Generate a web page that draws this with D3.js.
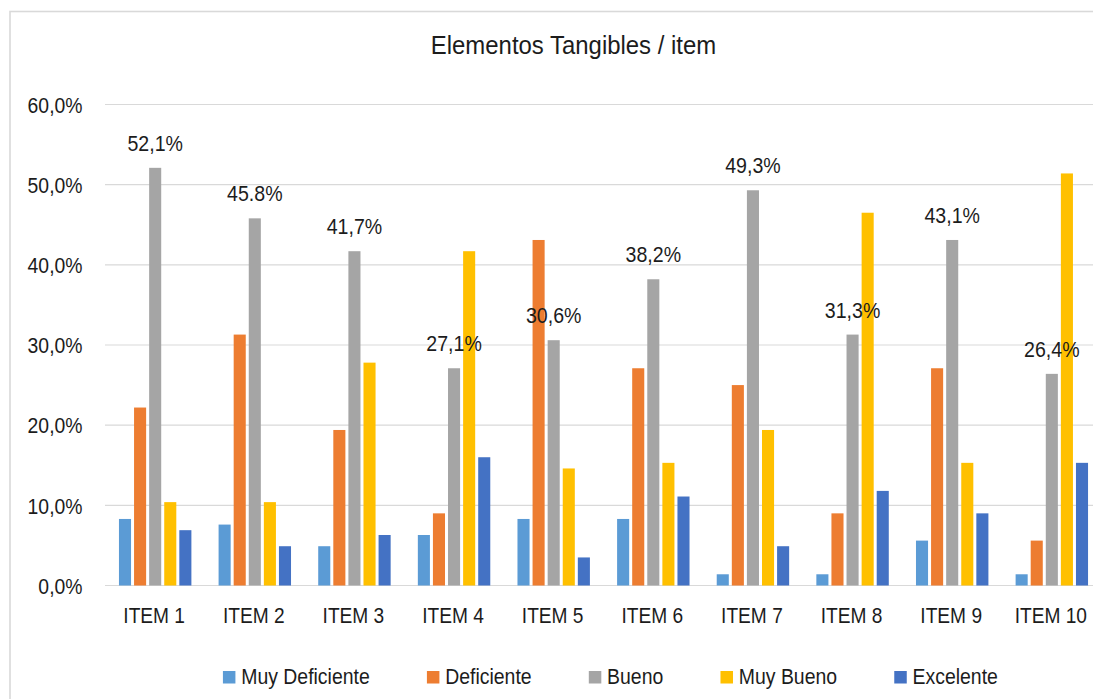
<!DOCTYPE html>
<html>
<head>
<meta charset="utf-8">
<script src="https://cdn.jsdelivr.net/npm/d3@7"></script>
<style>
  html, body { margin: 0; padding: 0; background: #fff; }
  svg { display: block; }
  text { font-family: "Liberation Sans", Arial, sans-serif; fill: #1c1c1c; }
</style>
</head>
<body>
<svg id="chart" width="1093" height="699"></svg>
<script>
// Categories and series (percent of respondents)
const items = ["ITEM 1", "ITEM 2", "ITEM 3", "ITEM 4", "ITEM 5", "ITEM 6", "ITEM 7", "ITEM 8", "ITEM 9", "ITEM 10"];
const seriesNames = ["Muy Deficiente", "Deficiente", "Bueno", "Muy Bueno", "Excelente"];
const muyDeficiente = [8.3, 7.6, 4.9, 6.3, 8.3, 8.3, 1.4, 1.4, 5.6, 1.4];
const deficiente    = [22.2, 31.3, 19.4, 9.0, 43.1, 27.1, 25.0, 9.0, 27.1, 5.6];
const bueno         = [52.1, 45.8, 41.7, 27.1, 30.6, 38.2, 49.3, 31.3, 43.1, 26.4];
const muyBueno      = [10.4, 10.4, 27.8, 41.7, 14.6, 15.3, 19.4, 46.5, 15.3, 51.4];
const excelente     = [6.9, 4.9, 6.3, 16.0, 3.5, 11.1, 4.9, 11.8, 9.0, 15.3];
// Value labels shown above the "Bueno" bars
const buenoLabels = ["52,1%", "45.8%", "41,7%", "27,1%", "30,6%", "38,2%", "49,3%", "31,3%", "43,1%", "26,4%"];
// Y axis ticks
const yTicks = [0, 10, 20, 30, 40, 50, 60];
const yTickLabels = ["0,0%", "10,0%", "20,0%", "30,0%", "40,0%", "50,0%", "60,0%"];

const seriesValues = [muyDeficiente, deficiente, bueno, muyBueno, excelente];
const colors = ["#5B9BD5", "#ED7D31", "#A5A5A5", "#FFC000", "#4472C4"];

const svg = d3.select("#chart");

// Squeeze text horizontally for the narrow look of the typeface
function condense(sel, k) {
  sel.each(function () {
    const w = this.getComputedTextLength();
    d3.select(this).attr("textLength", w * k).attr("lengthAdjust", "spacingAndGlyphs");
  });
}

// Chart frame
svg.append("rect")
  .attr("x", 10).attr("y", 11.5)
  .attr("width", 1200).attr("height", 800)
  .attr("fill", "none").attr("stroke", "#d9d9d9").attr("stroke-width", 1.6);

const plot = { left: 105, right: 1102, top: 104.5, bottom: 585.5 };

const x0 = d3.scaleBand()
  .domain(items)
  .range([plot.left, plot.right])
  .paddingInner(0.2427)
  .paddingOuter(0.125);

const x1 = d3.scaleBand()
  .domain(seriesNames)
  .range([0, x0.bandwidth()])
  .paddingInner(0.2)
  .paddingOuter(0.1);

const y = d3.scaleLinear().domain([0, 60]).range([plot.bottom, plot.top]);

// Gridlines
svg.append("g")
  .selectAll("line")
  .data(yTicks)
  .join("line")
  .attr("x1", plot.left).attr("x2", 1093)
  .attr("y1", d => y(d)).attr("y2", d => y(d))
  .attr("stroke", "#d9d9d9").attr("stroke-width", 1.2);

// Y tick labels
const yLab = svg.append("g")
  .selectAll("text")
  .data(yTicks)
  .join("text")
  .attr("x", 82.5)
  .attr("y", d => y(d) + 8.3)
  .attr("text-anchor", "end")
  .attr("font-size", 22)
  .text((d, i) => yTickLabels[i]);
condense(yLab, 0.88);

// Bars
const groups = svg.append("g")
  .selectAll("g")
  .data(items)
  .join("g")
  .attr("transform", d => `translate(${x0(d)},0)`);

groups.selectAll("rect")
  .data((d, i) => seriesNames.map((s, j) => ({ s, v: seriesValues[j][i], c: colors[j] })))
  .join("rect")
  .attr("x", d => x1(d.s))
  .attr("width", x1.bandwidth())
  .attr("y", d => y(d.v))
  .attr("height", d => y(0) - y(d.v))
  .attr("fill", d => d.c);

// Labels over the "Bueno" bars
const vLab = svg.append("g")
  .selectAll("text")
  .data(items)
  .join("text")
  .attr("x", d => x0(d) + x1("Bueno") + x1.bandwidth() / 2)
  .attr("y", (d, i) => y(bueno[i]) - 17)
  .attr("text-anchor", "middle")
  .attr("font-size", 22)
  .text((d, i) => buenoLabels[i]);
condense(vLab, 0.89);

// X category labels
const xLab = svg.append("g")
  .selectAll("text")
  .data(items)
  .join("text")
  .attr("x", d => x0(d) + x0.bandwidth() / 2 - 1)
  .attr("y", 622.7)
  .attr("text-anchor", "middle")
  .attr("font-size", 22)
  .text(d => d);
condense(xLab, 0.87);

// Title
const title = svg.append("text")
  .attr("x", 573.5).attr("y", 54.3)
  .attr("text-anchor", "middle")
  .attr("font-size", 26)
  .text("Elementos Tangibles / item");
condense(title, 0.92);

// Legend
const legend = svg.append("g");
const sw = 12.5, gapText = 5.8, gapItem = 57.2;
const entries = legend.selectAll("g")
  .data(seriesNames)
  .join("g");
entries.append("rect")
  .attr("width", sw).attr("height", sw)
  .attr("y", 671)
  .attr("fill", (d, i) => colors[i]);
const legText = entries.append("text")
  .attr("x", sw + gapText)
  .attr("y", 684.3)
  .attr("font-size", 22)
  .text(d => d);
condense(legText, 0.883);

let cursor = 0;
const offsets = [];
legText.each(function () {
  offsets.push(cursor);
  cursor += sw + gapText + (+this.getAttribute("textLength")) + gapItem;
});
const totalW = cursor - gapItem;
const startX = 610.4 - totalW / 2;
entries.attr("transform", (d, i) => `translate(${startX + offsets[i]},0)`);
</script>
</body>
</html>
